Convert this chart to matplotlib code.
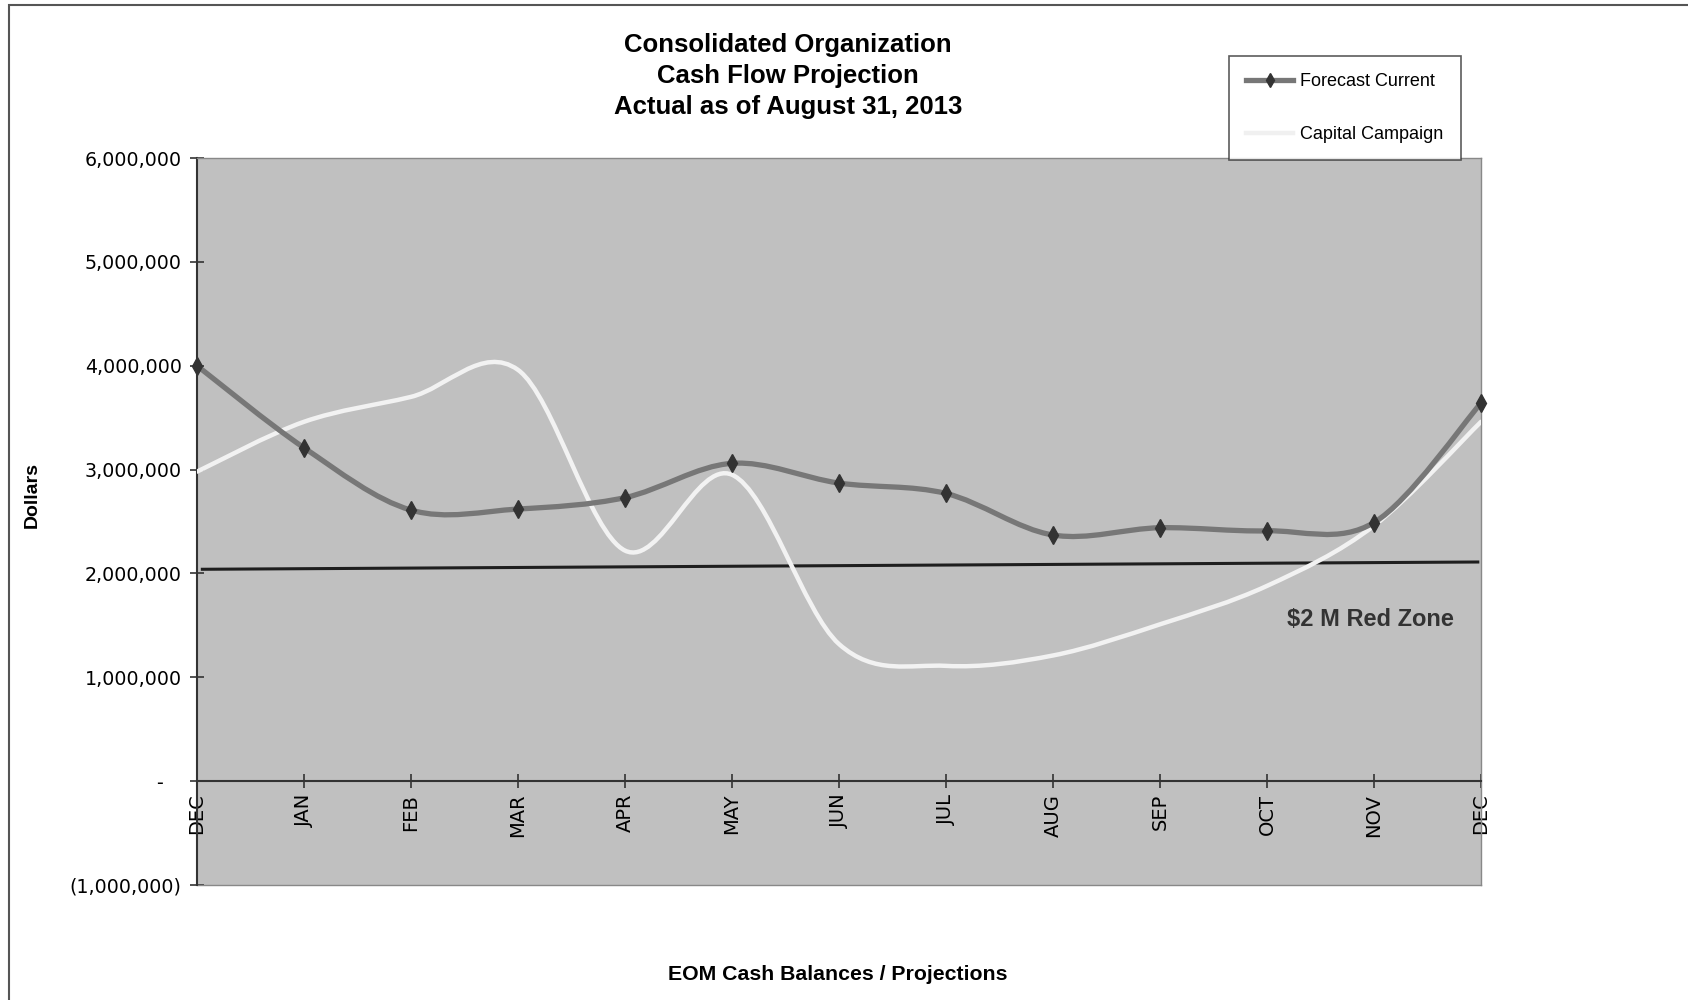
import numpy as np
import matplotlib
matplotlib.use("Agg")
import matplotlib.pyplot as plt
from matplotlib.path import Path
from matplotlib.patches import PathPatch, Rectangle
from matplotlib.lines import Line2D
from matplotlib.ticker import FuncFormatter

plt.rcParams['font.family'] = ['Liberation Sans', 'DejaVu Sans']

months = ['DEC', 'JAN', 'FEB', 'MAR', 'APR', 'MAY', 'JUN', 'JUL', 'AUG', 'SEP', 'OCT', 'NOV', 'DEC']
forecast_current = [4000000, 3210000, 2610000, 2620000, 2730000, 3060000, 2870000,
                    2770000, 2370000, 2440000, 2410000, 2490000, 3640000]
capital_campaign = [2980000, 3460000, 3700000, 3960000, 2220000, 2950000, 1320000,
                    1110000, 1210000, 1510000, 1880000, 2460000, 3460000]
red_zone_x = [0.05, 11.97]
red_zone = [2040000, 2110000]
y_ticks = [-1000000, 0, 1000000, 2000000, 3000000, 4000000, 5000000, 6000000]


def smooth_path(xs, ys):
    # Excel-style smoothed line: cubic Bezier segments through every point
    pts = np.column_stack([xs, ys]).astype(float)
    ext = np.vstack([pts[0], pts, pts[-1]])
    verts = [pts[0]]
    codes = [Path.MOVETO]
    for i in range(len(pts) - 1):
        p0, p1, p2, p3 = ext[i], ext[i + 1], ext[i + 2], ext[i + 3]
        verts += [p1 + (p2 - p0) / 6.0, p2 - (p3 - p1) / 6.0, p2]
        codes += [Path.CURVE4] * 3
    return Path(verts, codes)


def money(v, pos):
    if v == 0:
        return '-   '
    if v < 0:
        return '({:,.0f})'.format(-v)
    return '{:,.0f}'.format(v)


fig = plt.figure(figsize=(16.88, 10), dpi=100)
fig.patches.append(Rectangle((9 / 1688, -0.05), 1.1, 0.995 + 0.05, transform=fig.transFigure,
                             fill=False, edgecolor='#555555', linewidth=1.5))

ax = fig.add_axes([197 / 1688, 0.115, (1481 - 197) / 1688, 0.842 - 0.115])
ax.set_facecolor('#c0c0c0')
ax.spines['bottom'].set_position(('data', 0))
x = np.arange(len(months))

ax.plot(red_zone_x, red_zone, color='#1e1e1e', linewidth=2.2, zorder=2)
ax.add_patch(PathPatch(smooth_path(x, capital_campaign), fill=False,
                       edgecolor='#f2f2f2', linewidth=3.2, zorder=3, capstyle='round'))
ax.add_patch(PathPatch(smooth_path(x, forecast_current), fill=False,
                       edgecolor='#777777', linewidth=3.8, zorder=4, capstyle='round'))
ax.plot(x, forecast_current, linestyle='none', marker='d', markersize=9,
        color='#333333', zorder=5, clip_on=False)

ax.set_xlim(0, 12)
ax.set_ylim(-1000000, 6000000)
ax.set_yticks(y_ticks)
ax.yaxis.set_major_formatter(FuncFormatter(money))
ax.set_xticks(x)
ax.set_xticklabels(months, rotation=90, va='top', ha='center')
for lab in ax.get_xticklabels():
    lab.set_family('DejaVu Sans')
    lab.set_fontsize(14)
for lab in ax.get_yticklabels():
    lab.set_family('DejaVu Sans')
    lab.set_fontsize(13.7)

ax.spines['bottom'].set_color('#333333')
ax.spines['bottom'].set_linewidth(1.5)
ax.spines['left'].set_color('#333333')
ax.spines['left'].set_linewidth(1.5)
for s in ['top', 'right']:
    ax.spines[s].set_color('#888888')
    ax.spines[s].set_linewidth(1)
ax.plot([0, 1], [0, 0], transform=ax.transAxes, color='#888888', linewidth=1, clip_on=False)
ax.tick_params(axis='both', direction='inout', length=10, width=1.2, color='#333333')
ax.tick_params(axis='y', pad=6)
ax.tick_params(axis='x', pad=4)

ax.text(10.97, 1560000, '$2 M Red Zone', fontsize=17, fontweight='bold',
        color='#333333', ha='center', va='center')

fig.text(0.467, 0.924, 'Consolidated Organization\nCash Flow Projection\nActual as of August 31, 2013',
         ha='center', va='center', fontsize=18.5, fontweight='bold', linespacing=1.39)
fig.text(32 / 1688, 1 - 495 / 1000, 'Dollars', rotation=90, ha='center', va='center',
         fontsize=14, fontweight='bold')
fig.text(838 / 1688, 1 - 975 / 1000, 'EOM Cash Balances / Projections', ha='center',
         va='center', fontsize=15.3, fontweight='bold')

handles = [Line2D([], [], color='#777777', linewidth=3.8, marker='d', markersize=7,
                  markerfacecolor='#333333', markeredgecolor='#333333'),
           Line2D([], [], color='#f0f0f0', linewidth=3.2)]
leg = fig.legend(handles, ['Forecast Current', 'Capital Campaign'], loc='upper left',
                 bbox_to_anchor=(1229 / 1688, 1 - 56 / 1000), fontsize=13,
                 frameon=True, fancybox=False, edgecolor='#333333', handlelength=2.6,
                 handletextpad=0.4, labelspacing=2.0, borderpad=0.95, borderaxespad=0)
leg.get_frame().set_linewidth(1.2)

fig.savefig('out.png', dpi=100)
